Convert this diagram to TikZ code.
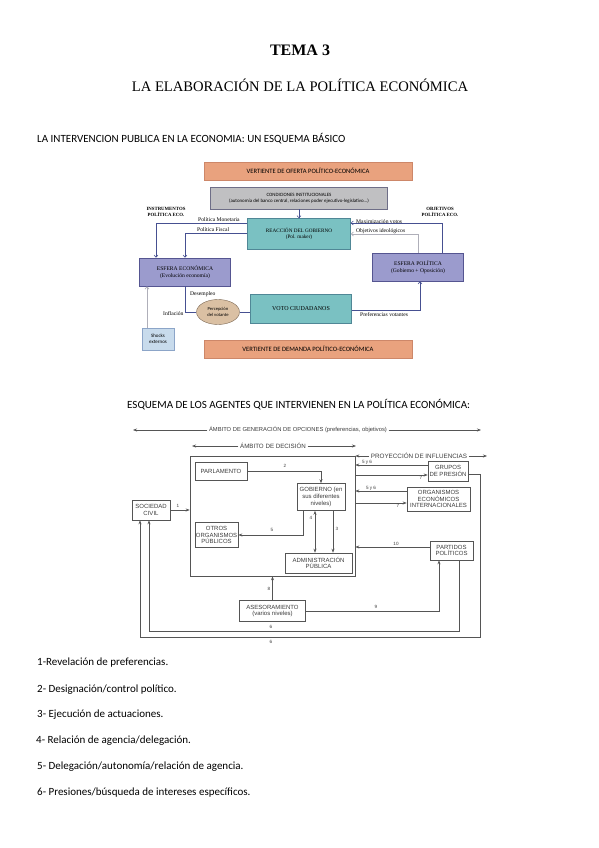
\documentclass[tikz,border=0pt]{standalone}
\usepackage{fontspec}
\setmainfont{Liberation Serif}
\newfontfamily\calfont{Carlito}
\newfontfamily\arlfont{Liberation Sans}
\usetikzlibrary{shapes.geometric,arrows.meta}
\definecolor{orng}{RGB}{233,162,126}
\definecolor{orngd}{RGB}{205,135,105}
\definecolor{tealf}{RGB}{122,193,194}
\definecolor{teald}{RGB}{80,135,150}
\definecolor{purf}{RGB}{155,155,205}
\definecolor{purd}{RGB}{85,85,145}
\definecolor{grayf}{RGB}{192,192,194}
\definecolor{grayd}{RGB}{110,110,135}
\definecolor{tanf}{RGB}{218,192,163}
\definecolor{tand}{RGB}{125,105,85}
\definecolor{skyf}{RGB}{200,219,236}
\definecolor{skyd}{RGB}{140,165,200}
\definecolor{navy}{RGB}{70,80,145}
\definecolor{lgry}{RGB}{175,175,185}
\definecolor{scan}{RGB}{85,85,85}
\definecolor{scant}{RGB}{60,60,60}
\tikzset{
  basebox/.style={draw, inner sep=0pt, align=center},
  ofer/.style={basebox, fill=orng, draw=orngd, font=\calfont\fontsize{6.6}{7.6}\selectfont},
  condbox/.style={basebox, fill=grayf, draw=grayd, line width=0.8pt, font=\calfont\fontsize{4.9}{6.2}\selectfont},
  tealbox/.style={basebox, fill=tealf, draw=teald, font=\fontsize{5.2}{6.6}\selectfont},
  purbox/.style={basebox, fill=purf, draw=purd, line width=0.7pt, font=\fontsize{5.6}{6.8}\selectfont},
  ellbox/.style={ellipse, draw=tand, fill=tanf, inner sep=0pt, align=center, font=\calfont\fontsize{4.6}{5.4}\selectfont},
  skybox/.style={basebox, fill=skyf, draw=skyd, font=\calfont\fontsize{5}{6}\selectfont},
  lab/.style={inner sep=0pt, align=center, font=\fontsize{5.6}{6}\selectfont},
  blab/.style={inner sep=0pt, align=center, font=\bfseries\fontsize{4.8}{5.4}\selectfont},
  nv/.style={draw=navy, line width=0.6pt},
  gl/.style={draw=lgry, line width=0.7pt},
  arr/.style={-{Straight Barb[length=2.2pt,width=4pt]}},
  sbox/.style={draw=scan, line width=0.6pt, inner sep=0pt, align=center, text=scant, font=\arlfont\fontsize{6}{6.6}\selectfont},
  sln/.style={draw=scan, line width=0.6pt},
  sar/.style={sln, -{Stealth[length=4pt,width=3pt]}},
  sdar/.style={sln, {Stealth[length=4pt,width=3pt]}-{Stealth[length=4pt,width=3pt]}},
  stxt/.style={inner sep=1.5pt, text=scant, font=\arlfont\fontsize{5.8}{6.4}\selectfont},
  snum/.style={inner sep=0pt, text=scant, font=\arlfont\fontsize{4.6}{5}\selectfont},
  head/.style={inner sep=0pt, anchor=west, font=\calfont\fontsize{11}{13}\selectfont},
  item/.style={inner sep=0pt, anchor=west, font=\calfont\fontsize{11}{13}\selectfont}
}
\begin{document}
\begin{tikzpicture}[x=1pt,y=-1pt]
\useasboundingbox[fill=white] (0,0) rectangle (599,848);

% ---------- titles
\node[inner sep=0pt, font=\bfseries\fontsize{16}{18}\selectfont] (tema) at (300,50) {TEMA 3};
\node[inner sep=0pt, font=\fontsize{14.6}{17}\selectfont] (tit) at (300,85) {LA ELABORACIÓN DE LA POLÍTICA ECONÓMICA};
\node[head] (h1) at (37,139) {LA INTERVENCION PUBLICA EN LA ECONOMIA: UN ESQUEMA BÁSICO};

% ---------- diagram 1
\node[ofer, minimum width=208, minimum height=18] (ofe) at (308,171) {VERTIENTE DE OFERTA POLÍTICO-ECONÓMICA};
\node[condbox, minimum width=177, minimum height=22] (cond) at (299,198) {CONDICIONES INSTITUCIONALES\\(autonomía del banco central, relaciones poder ejecutivo-legislativo...)};
\node[tealbox, minimum width=103, minimum height=31] (reac) at (299,234) {REACCIÓN DEL GOBIERNO\\(Pol. maker)};
\node[purbox, minimum width=91, minimum height=28] (esfe) at (185,272) {ESFERA ECONÓMICA\\(Evolución economía)};
\node[purbox, minimum width=91, minimum height=28] (esfp) at (418,267) {ESFERA POLÍTICA\\(Gobierno + Oposición)};
\node[tealbox, minimum width=101, minimum height=29, font=\fontsize{6}{7}\selectfont] (voto) at (301,309) {VOTO CIUDADANOS};
\node[ellbox, minimum width=43, minimum height=25] (perc) at (218,312) {Percepción\\del votante};
\node[skybox, minimum width=32, minimum height=22] (shock) at (158,339) {Shocks\\externos};
\node[ofer, minimum width=208, minimum height=18] (dem) at (308,349) {VERTIENTE DE DEMANDA POLÍTICO-ECONÓMICA};

\node[blab] (inst) at (166,212) {INSTRUMENTOS\\POLÍTICA ECO.};
\node[blab] (obj) at (440,212) {OBJETIVOS\\POLÍTICA ECO.};
\node[lab, anchor=south west] (lpm) at (198,221.5) {Política Monetaria};
\node[lab, anchor=south west] (lpf) at (197,232) {Política Fiscal};
\node[lab, anchor=south west] (lmv) at (356,223.5) {Maximización votos};
\node[lab, anchor=south west] (loi) at (356,233.5) {Objetivos ideológicos};
\node[lab, anchor=west] (ldes) at (190,294) {Desempleo};
\node[lab, anchor=west] (linf) at (163,314) {Inflación};
\node[lab, anchor=west] (lpv) at (360,315) {Preferencias votantes};

\draw[nv,arr] (cond.south -| reac.north) -- (reac.north);
\draw[nv,arr] (reac.west |- 0,223) -| (esfe.north -| 156,0);
\draw[nv,arr] (reac.west |- 0,233) -| (esfe.north -| 185,0);
\draw[nv,arr] (esfp.north -| 442,0) |- (reac.east |- 0,223);
\draw[gl,arr] (esfp.north -| 418,0) |- (reac.east |- 0,234);
\draw[nv] (esfe.south -| 185,0) |- (perc.west);
\draw[nv] (perc.east) -- (voto.west |- perc.east);
\draw[nv,arr] (voto.east |- 0,310) -| (esfp.south -| 420,0);
\draw[gl,arr] (shock.north -| 147,0) -- (esfe.south -| 147,0);

% ---------- diagram 2
\node[head] (h2) at (127,405) {ESQUEMA DE LOS AGENTES QUE INTERVIENEN EN LA POLÍTICA ECONÓMICA:};

\node[stxt] (gen) at (298,430) {ÁMBITO DE GENERACIÓN DE OPCIONES (preferencias, objetivos)};
\coordinate (genL) at (133,430);
\coordinate (genR) at (481,430);
\draw[sar] (gen.west) -- (genL);
\draw[sar] (gen.east) -- (genR);

\node[stxt, font=\arlfont\fontsize{6.2}{7}\selectfont] (amb) at (273,446) {ÁMBITO DE DECISIÓN};
\coordinate (ambL) at (192,446);
\coordinate (ambR) at (356,446);
\draw[sar] (amb.west) -- (ambL);
\draw[sar] (amb.east) -- (ambR);

\node[sbox, minimum width=165, minimum height=120] (dec) at (272.5,516) {};

\node[stxt, font=\arlfont\fontsize{6.3}{7}\selectfont] (proy) at (419,456) {PROYECCIÓN DE INFLUENCIAS};
\coordinate (proyR) at (487,456);
\draw[sar] (proy.west) -- (dec.east |- proy.west);
\draw[sar] (proy.east) -- (proyR);

\node[sbox, minimum width=52, minimum height=18] (parl) at (221,471) {PARLAMENTO};
\node[sbox, minimum width=48, minimum height=27] (gob) at (321,497) {GOBIERNO (en\\sus diferentes\\niveles)};
\node[sbox, minimum width=43, minimum height=25] (otros) at (216.5,535) {OTROS\\ORGANISMOS\\PÚBLICOS};
\node[sbox, minimum width=67, minimum height=20] (adm) at (318.5,563) {ADMINISTRACIÓN\\PÚBLICA};
\node[sbox, minimum width=38, minimum height=20] (soc) at (151,510) {SOCIEDAD\\CIVIL};
\node[sbox, minimum width=40, minimum height=20] (grp) at (448,471) {GRUPOS\\DE PRESIÓN};
\node[sbox, minimum width=63, minimum height=24] (org) at (438.5,499) {ORGANISMOS\\ECONÓMICOS\\INTERNACIONALES};
\node[sbox, minimum width=43, minimum height=19] (part) at (451.5,550.5) {PARTIDOS\\POLÍTICOS};
\node[sbox, minimum width=66, minimum height=21] (ase) at (272.5,611) {ASESORAMIENTO\\(varios niveles)};

\draw[sar] (soc.east) -- (dec.west |- soc.east);
\draw[sar] (parl.east) -| (gob.north);
\draw[sar] (gob.south -| 303,0) |- (otros.east);
\draw[sdar] (gob.south -| 315,0) -- (adm.north -| 315,0);
\draw[sar] (gob.south -| 333,0) -- (adm.north -| 333,0);
\draw[sar] (grp.west |- 0,465) -- (dec.east |- 0,465);
\draw[sar] (dec.east |- 0,475) -- (grp.west |- 0,475);
\draw[sar] (org.west |- 0,491) -- (dec.east |- 0,491);
\draw[sar] (dec.east |- 0,503) -- (org.west |- 0,503);
\draw[sar] (part.west |- 0,547) -- (dec.east |- 0,547);
\draw[sar] (ase.north) -- (dec.south -| ase.north);
\draw[sar] (ase.east) -| (part.south -| 439,0);
\draw[sar] (part.south -| 459,0) -- (459,631) -| (soc.south -| 149,0);
\draw[sar] (grp.east |- 0,474) -| (480,637) -| (soc.south -| 140,0);

\node[snum] (n1) at (178,506) {1};
\node[snum] (n2) at (285,466) {2};
\node[snum] (n5) at (272,530) {5};
\node[snum] (n4) at (311,518) {4};
\node[snum] (n3) at (337,529) {3};
\node[snum] (n56a) at (367,462) {5 y 6};
\node[snum] (n7a) at (421,478) {7};
\node[snum] (n56b) at (371,488) {5 y 6};
\node[snum] (n7b) at (398,506) {7};
\node[snum] (n10) at (396,544) {10};
\node[snum] (n8) at (269,589) {8};
\node[snum] (n9) at (376,607) {9};
\node[snum] (n6a) at (271,627) {6};
\node[snum] (n6b) at (271,642) {6};

% ---------- list
\node[item] (i1) at (37,663) {1-Revelación de preferencias.};
\node[item] (i2) at (37,690) {2- Designación/control político.};
\node[item] (i3) at (37,715) {3- Ejecución de actuaciones.};
\node[item] (i4) at (36,741) {4- Relación de agencia/delegación.};
\node[item] (i5) at (37,767) {5- Delegación/autonomía/relación de agencia.};
\node[item] (i6) at (37,793) {6- Presiones/búsqueda de intereses específicos.};
\end{tikzpicture}
\end{document}
